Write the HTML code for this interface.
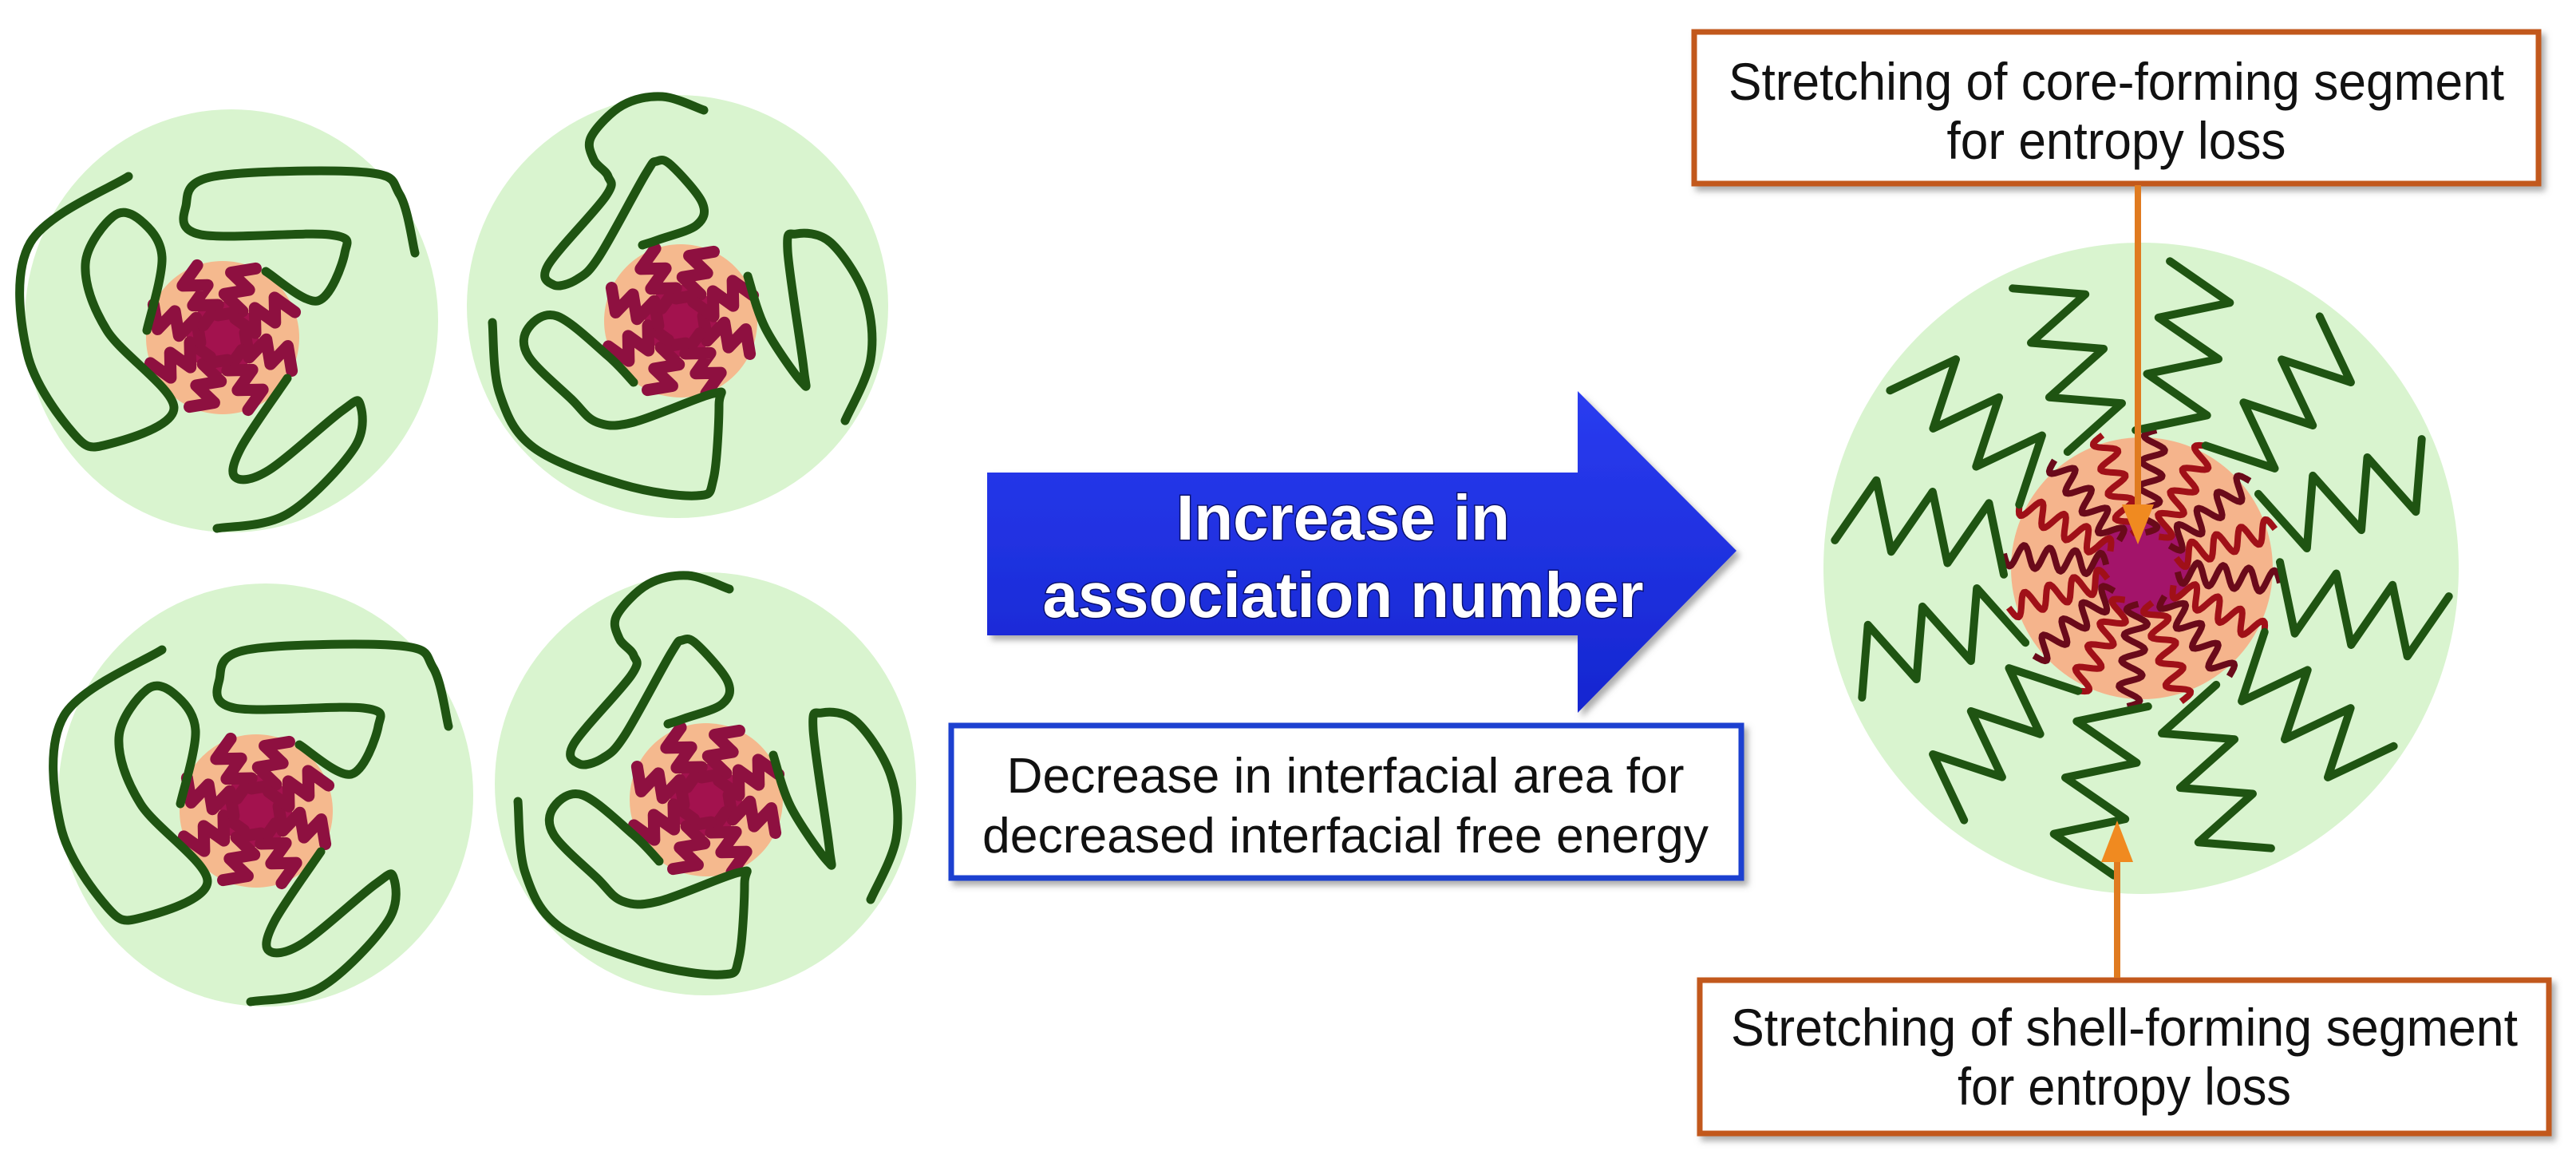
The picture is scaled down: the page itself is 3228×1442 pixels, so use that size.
<!DOCTYPE html>
<html><head><meta charset="utf-8"><style>
html,body{margin:0;padding:0;background:#fff;}
svg{display:block;}
</style></head><body>
<svg id="s" width="3228" height="1442" viewBox="0 0 3228 1442" xmlns="http://www.w3.org/2000/svg">
<defs>
<filter id="sh" x="-5%" y="-5%" width="115%" height="120%"><feDropShadow dx="5" dy="6" stdDeviation="4" flood-color="#777" flood-opacity="0.6"/></filter>
<linearGradient id="bg" x1="0" y1="0" x2="0" y2="1"><stop offset="0" stop-color="#2a3cf0"/><stop offset="1" stop-color="#1526d0"/></linearGradient>
</defs>
<g id="micelles"></g>
<g id="big"></g>
<polygon points="1237,592 1977,592 1977,490 2176,690 1977,893 1977,796 1237,796" fill="url(#bg)" filter="url(#sh)"/>
<g font-family="Liberation Sans, Arial, sans-serif" font-weight="bold" fill="#fff" text-anchor="middle" font-size="80" style="paint-order:stroke" stroke="#0a1170" stroke-width="3">
<text x="1683" y="676" textLength="418" lengthAdjust="spacingAndGlyphs">Increase in</text>
<text x="1683" y="773" textLength="753" lengthAdjust="spacingAndGlyphs">association number</text>
</g>
<rect x="1192" y="909" width="990" height="191" fill="#fff" stroke="#1a3fd0" stroke-width="7" filter="url(#sh)"/>
<g font-family="Liberation Sans, Arial, sans-serif" fill="#111" text-anchor="middle" font-size="62">
<text x="1686" y="993" textLength="849" lengthAdjust="spacingAndGlyphs">Decrease in interfacial area for</text>
<text x="1686" y="1068" textLength="910" lengthAdjust="spacingAndGlyphs">decreased interfacial free energy</text>
</g>
<rect x="2123" y="40" width="1058" height="190" fill="#fff" stroke="#c2581a" stroke-width="7" filter="url(#sh)"/>
<rect x="2130" y="1228" width="1064" height="192" fill="#fff" stroke="#c2581a" stroke-width="7" filter="url(#sh)"/>
<g font-family="Liberation Sans, Arial, sans-serif" fill="#111" text-anchor="middle" font-size="66">
<text x="2652" y="125" textLength="972" lengthAdjust="spacingAndGlyphs">Stretching of core-forming segment</text>
<text x="2652" y="199" textLength="425" lengthAdjust="spacingAndGlyphs">for entropy loss</text>
<text x="2662" y="1310" textLength="986" lengthAdjust="spacingAndGlyphs">Stretching of shell-forming segment</text>
<text x="2662" y="1384" textLength="418" lengthAdjust="spacingAndGlyphs">for entropy loss</text>
</g>
<g id="conn"></g>
</svg>
<script>
const NS="http://www.w3.org/2000/svg";
function el(p,tag,a){const e=document.createElementNS(NS,tag);for(const k in a)e.setAttribute(k,a[k]);p.appendChild(e);return e;}
function smooth(pts){let d="M"+pts[0][0]+","+pts[0][1];for(let i=0;i<pts.length-1;i++){const p0=pts[i-1]||pts[i],p1=pts[i],p2=pts[i+1],p3=pts[i+2]||p2;
const c1=[p1[0]+(p2[0]-p0[0])/6,p1[1]+(p2[1]-p0[1])/6],c2=[p2[0]-(p3[0]-p1[0])/6,p2[1]-(p3[1]-p1[1])/6];
d+=` C${c1[0].toFixed(1)},${c1[1].toFixed(1)} ${c2[0].toFixed(1)},${c2[1].toFixed(1)} ${p2[0]},${p2[1]}`;}return d;}
const M=document.getElementById("micelles");
const TL=[[[-118,-202],[-241,-119],[-245,19],[-187,120],[-145,134],[-61,88],[-145,-9],[-172,-92],[-137,-152],[-103,-147],[-76,-101],[-95,-9]],
[[54,-83],[119,-46],[153,-106],[134,-129],[-27,-129],[-46,-165],[-11,-202],[180,-207],[222,-179],[241,-106]],
[[81,51],[23,138],[16,175],[58,166],[149,92],[172,83],[165,138],[81,221],[-7,239]]];
const TR=[[[29,-264],[-23,-281],[-73,-270],[-112,-231],[-109,-202],[-91,-181],[-94,-156],[-166,-70],[-159,-45],[-130,-52],[-102,-81],[-44,-184],[-30,-200],[-12,-195],[27,-148],[20,-120],[-27,-102],[-48,-95]],
[[84,-56],[106,9],[152,77],[154,59],[134,-88],[145,-109],[188,-98],[231,-31],[238,48],[206,125]],
[[-59,77],[-91,44],[-155,-6],[-191,9],[-191,44],[-137,98],[-105,127],[-59,127],[41,91],[48,105],[41,198],[20,219],[-73,205],[-184,159],[-227,91],[-236,2]]];
function small(cx,cy,rx,ry,kx,ky,pat){
 el(M,"ellipse",{cx,cy,rx,ry,fill:"#d9f4cf"});
 el(M,"circle",{cx:kx,cy:ky,r:96,fill:"#f5b98e"});
 el(M,"circle",{cx:kx,cy:ky,r:45,fill:"#a3124e"});
 for(let i=0;i<8;i++){const a=i*Math.PI/4+0.3;const pts=[];
  for(let j=0;j<=5;j++){const r=25+j*14;const off=(j%2?14:-14);
   pts.push([kx+Math.cos(a)*r-Math.sin(a)*off,ky+Math.sin(a)*r+Math.cos(a)*off]);}
  el(M,"polyline",{points:pts.map(p=>p.join(",")).join(" "),fill:"none",stroke:"#8e1040","stroke-width":15,"stroke-linejoin":"round","stroke-linecap":"round"});}
 for(const c of pat){el(M,"path",{d:smooth(c.map(p=>[p[0]+kx,p[1]+ky])),fill:"none",stroke:"#1f5412","stroke-width":11,"stroke-linecap":"round"});}
}
small(290,402,259,265,279,423,TL);
small(849,384,264,265,853,402,TR);
small(333,996,260,265,321,1016,TL);
small(884,982,264,265,885,1002,TR);
const B=document.getElementById("big");const bx=2684,by=712;
el(B,"ellipse",{cx:2683,cy:712,rx:398,ry:408,fill:"#d9f4cf"});
el(B,"circle",{cx:bx,cy:by,r:164,fill:"#f5b48c"});
el(B,"circle",{cx:bx,cy:by,r:60,fill:"#a3146a"});
for(let i=0;i<16;i++){const a=i*2*Math.PI/16+0.1;const pts=[];
 for(let t=0;t<=60;t++){const r=45+t*2.15;const off=Math.sin(t*0.42)*14;
  pts.push([bx+Math.cos(a)*r-Math.sin(a)*off,by+Math.sin(a)*r+Math.cos(a)*off]);}
 el(B,"polyline",{points:pts.map(p=>p[0].toFixed(1)+","+p[1].toFixed(1)).join(" "),fill:"none",stroke:i%2?"#a01018":"#6a0a1a","stroke-width":8,"stroke-linejoin":"round"});}
for(let i=0;i<12;i++){const a=i*2*Math.PI/12+0.2;const pts=[];
 for(let j=0;j<=6;j++){const r=168+j*36;const off=(j%2?42:-42);
  pts.push([bx+Math.cos(a)*r-Math.sin(a)*off,by+Math.sin(a)*r+Math.cos(a)*off]);}
 el(B,"polyline",{points:pts.map(p=>p[0].toFixed(1)+","+p[1].toFixed(1)).join(" "),fill:"none",stroke:"#1f5412","stroke-width":10,"stroke-linejoin":"round","stroke-linecap":"round"});}
const C=document.getElementById("conn");
el(C,"line",{x1:2679,y1:232,x2:2679,y2:650,stroke:"#e07b20","stroke-width":8});
el(C,"polygon",{points:"2659,632 2699,632 2679,682",fill:"#f08a20"});
el(C,"line",{x1:2653,y1:1225,x2:2653,y2:1070,stroke:"#e07b20","stroke-width":8});
el(C,"polygon",{points:"2633,1080 2673,1080 2653,1028",fill:"#f08a20"});
</script>
</body></html>
